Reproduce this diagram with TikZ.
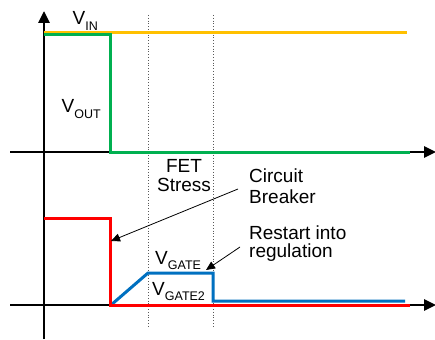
\documentclass[tikz,border=0pt]{standalone}
\usepackage{fontspec}
\setmainfont{Liberation Sans}
\usetikzlibrary{arrows.meta}
\definecolor{cyel}{HTML}{FFC000}
\definecolor{cgrn}{HTML}{00B050}
\definecolor{cred}{HTML}{FF0000}
\definecolor{cblu}{HTML}{0070C0}
\newcommand{\subtxt}[1]{\raisebox{-0.3em}{\fontsize{12.5}{13}\selectfont #1}}
\tikzset{
  axis/.style={line width=2.8pt,-{Triangle[length=12pt,width=11pt]}},
  wave/.style={line width=3pt},
  guide/.style={line width=0.8pt,gray!70!black,dotted},
  ann/.style={line width=0.8pt,-{Triangle[length=9pt,width=8pt]}},
  lbl/.style={font=\fontsize{19}{21}\selectfont,inner sep=0pt,align=left}
}
\begin{document}
\begin{tikzpicture}[x=1pt,y=-1pt]
\useasboundingbox[fill=white] (0,0) rectangle (435,339);
% guides
\draw[guide] (148,15) -- (148,328);
\draw[guide] (213,15) -- (213,328);
% axes
\coordinate (yb) at (44,339);
\coordinate (yt) at (44,11);
\coordinate (a1l) at (10,152);
\coordinate (a1r) at (436,152);
\coordinate (a2l) at (10,305);
\coordinate (a2r) at (436,305);
\draw[axis] (yb) -- (yt);
\draw[axis] (a1l) -- (a1r);
\draw[axis] (a2l) -- (a2r);
% waves
\draw[wave,cyel] (44,33) -- (407,33);
\draw[wave,cgrn] (44,35) -- (110,35) -- (110,152) -- (410,152);
\draw[wave,cblu] (111,305) -- (148,273) -- (213,273) -- (213,301) -- (405,301);
\draw[wave,cred] (44,218) -- (110,218) -- (110,305) -- (410,305);
% labels
\node[lbl,anchor=base west] (vin) at (72.5,25) {V\subtxt{IN}};
\node[lbl,anchor=base west] (vout) at (61.5,113) {V\subtxt{OUT}};
\node[lbl,align=center,anchor=north] (fet) at (184,159) {FET\\[-2pt]Stress};
\node[lbl,anchor=north west] (cb) at (249,169) {Circuit\\Breaker};
\node[lbl,anchor=north west] (rr) at (249,226) {Restart into\\[-3pt]regulation};
\node[lbl,anchor=base west] (vg) at (155,264) {V\subtxt{GATE}};
\node[lbl,anchor=base west] (vg2) at (152,295) {V\subtxt{GATE2}};
% annotation arrows
\coordinate (cbs) at (238,189);
\coordinate (cbe) at (111,241);
\coordinate (rrs) at (240,247);
\coordinate (rre) at (206,270);
\draw[ann] (cbs) -- (cbe);
\draw[ann] (rrs) -- (rre);
\end{tikzpicture}
\end{document}
